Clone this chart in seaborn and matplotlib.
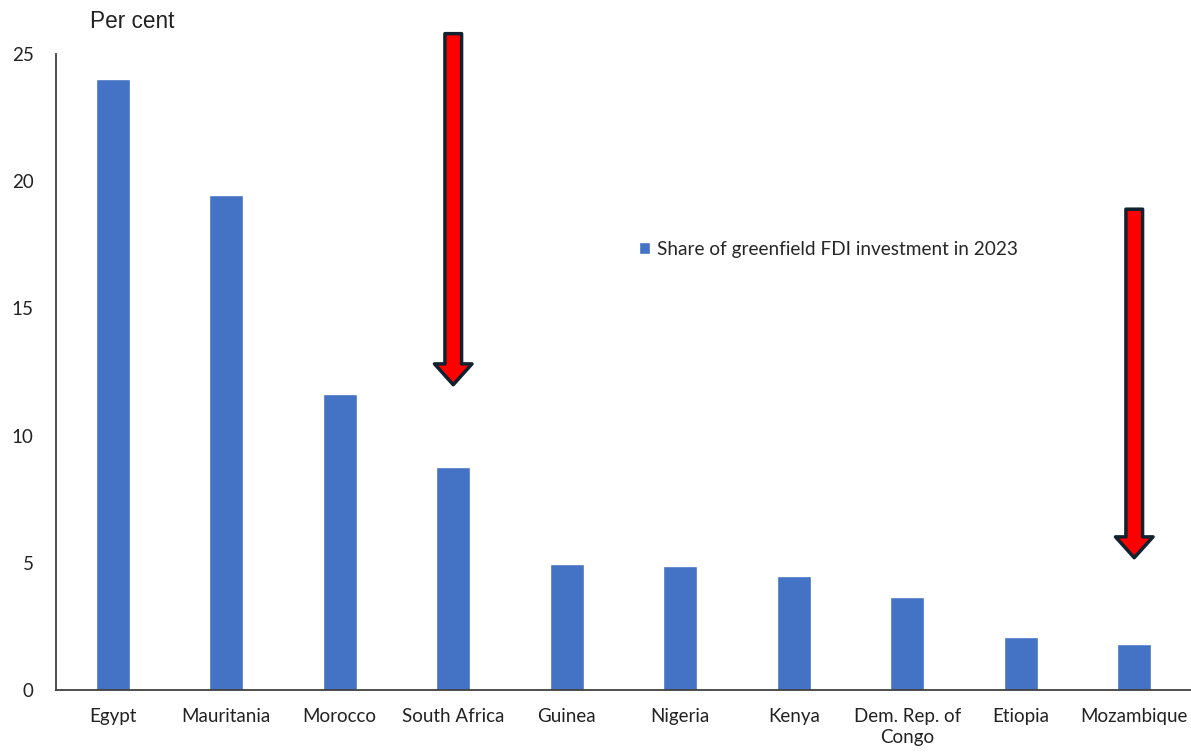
import matplotlib
matplotlib.use("Agg")
import matplotlib.pyplot as plt
import seaborn as sns
import pandas as pd

countries = ["Egypt", "Mauritania", "Morocco", "South Africa", "Guinea", "Nigeria",
             "Kenya", "Dem. Rep. of\nCongo", "Etiopia", "Mozambique"]
shares = [24.0, 19.45, 11.63, 8.77, 4.95, 4.87, 4.48, 3.66, 2.08, 1.81]
series_label = "Share of greenfield FDI investment in 2023"
yticks = [0, 5, 10, 15, 20, 25]
arrow_targets = ["South Africa", "Mozambique"]
arrow_tops = [25.8, 18.9]
arrow_tips = [12.0, 5.2]

sns.set_theme(style="white")
plt.rcParams["font.family"] = ["Lato", "DejaVu Sans"]

df = pd.DataFrame({"country": countries, "share": shares})

fig = plt.figure(figsize=(11.91, 7.55), dpi=100)
ax = fig.add_axes([56 / 1191, 1 - 690 / 755, 1 - 56 / 1191, (690 - 54) / 755])

sns.barplot(data=df, x="country", y="share", color="#4472C4", width=0.3,
            saturation=1, label=series_label, ax=ax)

ax.set_xlim(-0.5, len(countries) - 0.5)
ax.set_ylim(0, 25)
ax.set_yticks(yticks)
ax.set_yticklabels([str(t) for t in yticks])
ax.set_xlabel("")
ax.set_ylabel("")
for s in ["top", "right"]:
    ax.spines[s].set_visible(False)
for s in ["left", "bottom"]:
    ax.spines[s].set_color("#404040")
    ax.spines[s].set_linewidth(1.3)
ax.tick_params(axis="y", length=0, pad=16, labelsize=13.5, labelcolor="#222222")
ax.tick_params(axis="x", length=0, pad=13, labelsize=13.5, labelcolor="#222222")
for lbl in ax.get_xticklabels():
    lbl.set_linespacing(1.25)
    lbl.set_verticalalignment("top")

fig.text(90 / 1191, 1 - 22 / 755, "Per cent", fontsize=16.3, family="Liberation Sans",
         va="center", ha="left", color="#222222")

leg = ax.legend(loc="center left", bbox_to_anchor=(639 / 1191, 1 - 249 / 755),
                bbox_transform=fig.transFigure, frameon=False, fontsize=13.7,
                handlelength=0.6, handleheight=0.6, handletextpad=0.35,
                borderaxespad=0, borderpad=0)

cats = list(countries)
for name, top, tip in zip(arrow_targets, arrow_tops, arrow_tips):
    xi = cats.index(name)
    ax.annotate("", xy=(xi, tip), xytext=(xi, top), annotation_clip=False,
                arrowprops=dict(arrowstyle="simple,head_length=1.5,head_width=2.7,tail_width=1.2",
                                mutation_scale=10, fc="#FF0000", ec="#10222F", lw=2.5,
                                shrinkA=0, shrinkB=0, clip_on=False))

fig.savefig("out.png", dpi=100)
